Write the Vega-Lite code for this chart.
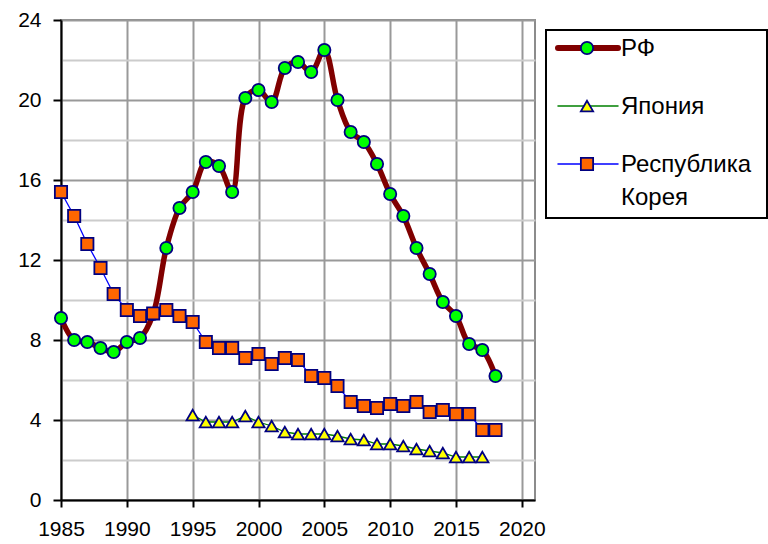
{
  "$schema": "https://vega.github.io/schema/vega-lite/v6.json",
  "background": "white",
  "padding": {"left": 16, "top": 8, "right": 0, "bottom": 0},
  "spacing": 11,
  "bounds": "flush",
  "config": {
    "font": "Liberation Sans",
    "axis": {"labelFont": "Liberation Sans", "labelColor": "#000000"}
  },
  "datasets": {
    "rates": [
      {"series": "РФ", "year": 1985, "value": 9.1},
      {"series": "РФ", "year": 1986, "value": 8.0},
      {"series": "РФ", "year": 1987, "value": 7.9},
      {"series": "РФ", "year": 1988, "value": 7.6},
      {"series": "РФ", "year": 1989, "value": 7.4},
      {"series": "РФ", "year": 1990, "value": 7.9},
      {"series": "РФ", "year": 1991, "value": 8.1},
      {"series": "РФ", "year": 1992, "value": 9.3},
      {"series": "РФ", "year": 1993, "value": 12.6},
      {"series": "РФ", "year": 1994, "value": 14.6},
      {"series": "РФ", "year": 1995, "value": 15.4},
      {"series": "РФ", "year": 1996, "value": 16.9},
      {"series": "РФ", "year": 1997, "value": 16.7},
      {"series": "РФ", "year": 1998, "value": 15.4},
      {"series": "РФ", "year": 1999, "value": 20.1},
      {"series": "РФ", "year": 2000, "value": 20.5},
      {"series": "РФ", "year": 2001, "value": 19.9},
      {"series": "РФ", "year": 2002, "value": 21.6},
      {"series": "РФ", "year": 2003, "value": 21.9},
      {"series": "РФ", "year": 2004, "value": 21.4},
      {"series": "РФ", "year": 2005, "value": 22.5},
      {"series": "РФ", "year": 2006, "value": 20.0},
      {"series": "РФ", "year": 2007, "value": 18.4},
      {"series": "РФ", "year": 2008, "value": 17.9},
      {"series": "РФ", "year": 2009, "value": 16.8},
      {"series": "РФ", "year": 2010, "value": 15.3},
      {"series": "РФ", "year": 2011, "value": 14.2},
      {"series": "РФ", "year": 2012, "value": 12.6},
      {"series": "РФ", "year": 2013, "value": 11.3},
      {"series": "РФ", "year": 2014, "value": 9.9},
      {"series": "РФ", "year": 2015, "value": 9.2},
      {"series": "РФ", "year": 2016, "value": 7.8},
      {"series": "РФ", "year": 2017, "value": 7.5},
      {"series": "РФ", "year": 2018, "value": 6.2},
      {"series": "Япония", "year": 1995, "value": 4.25},
      {"series": "Япония", "year": 1996, "value": 3.9},
      {"series": "Япония", "year": 1997, "value": 3.9},
      {"series": "Япония", "year": 1998, "value": 3.9},
      {"series": "Япония", "year": 1999, "value": 4.2},
      {"series": "Япония", "year": 2000, "value": 3.9},
      {"series": "Япония", "year": 2001, "value": 3.7},
      {"series": "Япония", "year": 2002, "value": 3.4},
      {"series": "Япония", "year": 2003, "value": 3.3},
      {"series": "Япония", "year": 2004, "value": 3.3},
      {"series": "Япония", "year": 2005, "value": 3.3},
      {"series": "Япония", "year": 2006, "value": 3.2},
      {"series": "Япония", "year": 2007, "value": 3.05},
      {"series": "Япония", "year": 2008, "value": 3.0},
      {"series": "Япония", "year": 2009, "value": 2.8},
      {"series": "Япония", "year": 2010, "value": 2.8},
      {"series": "Япония", "year": 2011, "value": 2.7},
      {"series": "Япония", "year": 2012, "value": 2.55},
      {"series": "Япония", "year": 2013, "value": 2.45},
      {"series": "Япония", "year": 2014, "value": 2.35},
      {"series": "Япония", "year": 2015, "value": 2.15},
      {"series": "Япония", "year": 2016, "value": 2.15},
      {"series": "Япония", "year": 2017, "value": 2.15},
      {"series": "Республика Корея", "year": 1985, "value": 15.4},
      {"series": "Республика Корея", "year": 1986, "value": 14.2},
      {"series": "Республика Корея", "year": 1987, "value": 12.8},
      {"series": "Республика Корея", "year": 1988, "value": 11.6},
      {"series": "Республика Корея", "year": 1989, "value": 10.3},
      {"series": "Республика Корея", "year": 1990, "value": 9.5},
      {"series": "Республика Корея", "year": 1991, "value": 9.2},
      {"series": "Республика Корея", "year": 1992, "value": 9.33},
      {"series": "Республика Корея", "year": 1993, "value": 9.5},
      {"series": "Республика Корея", "year": 1994, "value": 9.2},
      {"series": "Республика Корея", "year": 1995, "value": 8.9},
      {"series": "Республика Корея", "year": 1996, "value": 7.9},
      {"series": "Республика Корея", "year": 1997, "value": 7.6},
      {"series": "Республика Корея", "year": 1998, "value": 7.6},
      {"series": "Республика Корея", "year": 1999, "value": 7.1},
      {"series": "Республика Корея", "year": 2000, "value": 7.3},
      {"series": "Республика Корея", "year": 2001, "value": 6.8},
      {"series": "Республика Корея", "year": 2002, "value": 7.1},
      {"series": "Республика Корея", "year": 2003, "value": 7.0},
      {"series": "Республика Корея", "year": 2004, "value": 6.2},
      {"series": "Республика Корея", "year": 2005, "value": 6.1},
      {"series": "Республика Корея", "year": 2006, "value": 5.7},
      {"series": "Республика Корея", "year": 2007, "value": 4.9},
      {"series": "Республика Корея", "year": 2008, "value": 4.7},
      {"series": "Республика Корея", "year": 2009, "value": 4.6},
      {"series": "Республика Корея", "year": 2010, "value": 4.8},
      {"series": "Республика Корея", "year": 2011, "value": 4.7},
      {"series": "Республика Корея", "year": 2012, "value": 4.9},
      {"series": "Республика Корея", "year": 2013, "value": 4.4},
      {"series": "Республика Корея", "year": 2014, "value": 4.5},
      {"series": "Республика Корея", "year": 2015, "value": 4.3},
      {"series": "Республика Корея", "year": 2016, "value": 4.3},
      {"series": "Республика Корея", "year": 2017, "value": 3.5},
      {"series": "Республика Корея", "year": 2018, "value": 3.5}
    ],
    "legend": [
      {"series": "РФ"},
      {"series": "Япония"},
      {"series": "Республика Корея"}
    ]
  },
  "hconcat": [
    {
      "width": 474,
      "height": 480,
      "view": {"stroke": "#8c8c8c", "strokeWidth": 2},
      "data": {"name": "rates"},
      "encoding": {
        "x": {
          "field": "year",
          "type": "quantitative",
          "scale": {"domain": [1985, 2021], "nice": false, "zero": false},
          "axis": {
            "title": null,
            "values": [1985, 1990, 1995, 2000, 2005, 2010, 2015, 2020],
            "format": "d",
            "labelFontSize": 21,
            "labelPadding": 11,
            "labelFlush": false,
            "labelOverlap": false,
            "tickColor": "#000000",
            "tickSize": 7,
            "tickWidth": 2,
            "domainColor": "#000000",
            "domainWidth": 2,
            "grid": true,
            "gridColor": "#999999",
            "gridWidth": 2
          }
        },
        "y": {
          "field": "value",
          "type": "quantitative",
          "scale": {"domain": [0, 24], "nice": false},
          "axis": {
            "title": null,
            "values": [0, 2, 4, 6, 8, 10, 12, 14, 16, 18, 20, 22, 24],
            "labelExpr": "datum.value % 4 === 0 ? datum.label : ''",
            "labelFontSize": 21,
            "labelPadding": 12,
            "labelOverlap": false,
            "labelFlush": false,
            "tickColor": "#000000",
            "tickSize": 8,
            "tickWidth": 2,
            "tickOpacity": {"condition": {"test": "datum.value % 4 === 0", "value": 1}, "value": 0},
            "domainColor": "#000000",
            "domainWidth": 2,
            "grid": true,
            "gridColor": {"condition": {"test": "datum.value % 4 === 0", "value": "#999999"}, "value": "#cccccc"},
            "gridWidth": 2
          }
        }
      },
      "layer": [
        {
          "transform": [{"filter": "datum.series === 'РФ'"}],
          "mark": {"type": "line", "color": "#800000", "strokeWidth": 5.5, "interpolate": "catmull-rom", "strokeCap": "round", "strokeJoin": "round"}
        },
        {
          "transform": [{"filter": "datum.series === 'РФ'"}],
          "mark": {"type": "point", "shape": "circle", "filled": true, "fill": "#00ff00", "stroke": "#000080", "strokeWidth": 1.8, "size": 150, "opacity": 1}
        },
        {
          "transform": [{"filter": "datum.series === 'Япония'"}],
          "mark": {"type": "line", "color": "#008000", "strokeWidth": 1.3}
        },
        {
          "transform": [{"filter": "datum.series === 'Япония'"}],
          "mark": {"type": "point", "shape": "triangle-up", "filled": true, "fill": "#ffff00", "stroke": "#000080", "strokeWidth": 1.8, "size": 150, "opacity": 1}
        },
        {
          "transform": [{"filter": "datum.series === 'Республика Корея'"}],
          "mark": {"type": "line", "color": "#0000ff", "strokeWidth": 1.3}
        },
        {
          "transform": [{"filter": "datum.series === 'Республика Корея'"}],
          "mark": {"type": "point", "shape": "square", "filled": true, "fill": "#ff6600", "stroke": "#000080", "strokeWidth": 1.8, "size": 150, "opacity": 1}
        }
      ]
    },
    {
      "spacing": 0,
      "bounds": "flush",
      "vconcat": [
        {
          "width": 221,
          "height": 10,
          "view": {"stroke": null},
          "data": {"values": [{}]},
          "mark": {"type": "point", "opacity": 0},
          "encoding": {}
        },
        {
          "width": 221,
          "height": 188,
          "view": {"stroke": "#000000", "strokeWidth": 2},
          "data": {"name": "legend"},
          "encoding": {
            "y": {
              "field": "series",
              "type": "nominal",
              "scale": {"type": "point", "domain": ["РФ", "Япония", "Республика Корея"], "range": [18, 134], "padding": 0},
              "axis": null
            }
          },
          "layer": [
            {
              "mark": {"type": "rule", "strokeCap": "round"},
              "encoding": {
                "x": {"datum": 12, "type": "quantitative", "scale": {"domain": [0, 221], "nice": false, "zero": true}, "axis": null},
                "x2": {"datum": 72},
                "stroke": {"field": "series", "type": "nominal", "scale": {"domain": ["РФ", "Япония", "Республика Корея"], "range": ["#800000", "#008000", "#0000ff"]}, "legend": null},
                "strokeWidth": {"condition": {"test": "datum.series === 'РФ'", "value": 6}, "value": 1.5}
              }
            },
            {
              "mark": {"type": "point", "filled": true, "stroke": "#000080", "strokeWidth": 1.8, "size": 150, "opacity": 1},
              "encoding": {
                "x": {"datum": 41, "type": "quantitative"},
                "fill": {"field": "series", "type": "nominal", "scale": {"domain": ["РФ", "Япония", "Республика Корея"], "range": ["#00ff00", "#ffff00", "#ff6600"]}, "legend": null},
                "shape": {"field": "series", "type": "nominal", "scale": {"domain": ["РФ", "Япония", "Республика Корея"], "range": ["circle", "triangle-up", "square"]}, "legend": null}
              }
            },
            {
              "mark": {"type": "text", "align": "left", "baseline": "alphabetic", "dy": 8, "fontSize": 24, "lineBreak": " ", "lineHeight": 33, "color": "#000000", "font": "Liberation Sans"},
              "encoding": {
                "x": {"datum": 75, "type": "quantitative"},
                "text": {"field": "series"}
              }
            }
          ]
        }
      ]
    }
  ]
}
